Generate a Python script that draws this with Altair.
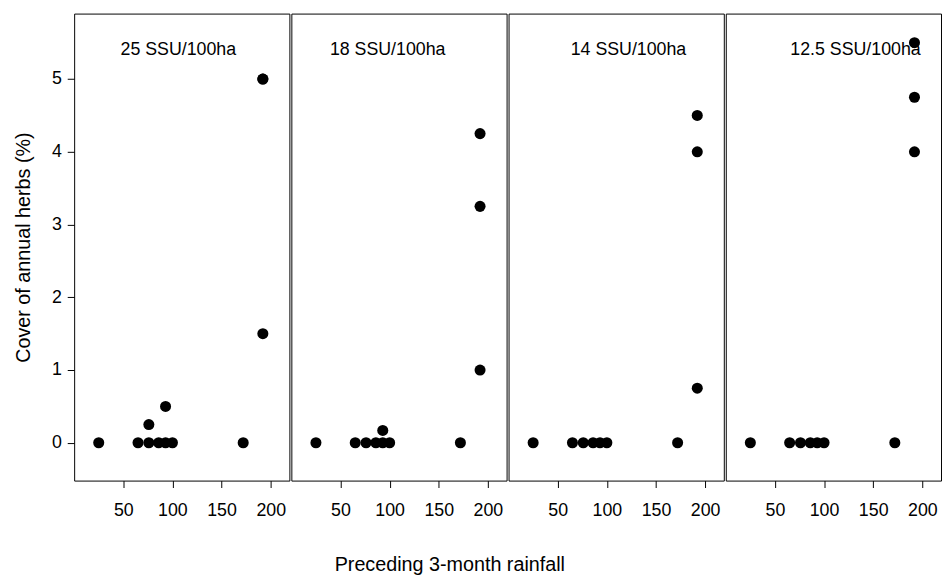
import altair as alt
import pandas as pd

FONT = "Liberation Sans"

panel_names = ["25 SSU/100ha", "18 SSU/100ha", "14 SSU/100ha", "12.5 SSU/100ha"]

rain_p1 = [25, 65, 76, 76, 86, 93, 93, 100, 172, 192, 192, 192]
cover_p1 = [0, 0, 0, 0.25, 0, 0, 0.5, 0, 0, 5.0, 5.0, 1.5]

rain_p2 = [25, 65, 76, 86, 93, 93, 100, 172, 192, 192, 192]
cover_p2 = [0, 0, 0, 0, 0, 0.17, 0, 0, 4.25, 3.25, 1.0]

rain_p3 = [25, 65, 76, 86, 93, 100, 172, 192, 192, 192]
cover_p3 = [0, 0, 0, 0, 0, 0, 0, 4.5, 4.0, 0.75]

rain_p4 = [25, 65, 76, 86, 93, 100, 172, 192, 192, 192]
cover_p4 = [0, 0, 0, 0, 0, 0, 0, 5.5, 4.75, 4.0]

label_x = [106, 98, 122, 132]
label_y = [5.4, 5.4, 5.4, 5.4]

x_ticks = [50, 100, 150, 200]
y_ticks = [0, 1, 2, 3, 4, 5]

rains = [rain_p1, rain_p2, rain_p3, rain_p4]
covers = [cover_p1, cover_p2, cover_p3, cover_p4]

W, H = 218, 473

x_scale = alt.Scale(domain=[0, 219], nice=False, zero=False)
y_scale = alt.Scale(domain=[-0.52, 5.9], nice=False, zero=False)

panels = []
for i, name in enumerate(panel_names):
    df = pd.DataFrame({"rain": rains[i], "cover": covers[i]})
    lab = pd.DataFrame({"x": [label_x[i]], "y": [label_y[i]], "t": [name]})
    if i == 0:
        yax = alt.Axis(values=y_ticks, title="Cover of annual herbs (%)", titleFontSize=20,
                       titleFont=FONT, titleFontWeight="normal", titleColor="black",
                       titlePadding=18, labelFontSize=18, labelFont=FONT, labelColor="black",
                       labelPadding=6, tickSize=7, tickColor="black", domain=False, grid=False)
    else:
        yax = None
    xax = alt.Axis(values=x_ticks, title=None, labelFontSize=18, labelFont=FONT,
                   labelColor="black", labelPadding=14, tickSize=7, tickColor="black",
                   domain=False, grid=False, labelFlush=False)
    text = alt.Chart(lab).mark_text(font=FONT, fontSize=18, color="black").encode(
        x=alt.X("x:Q", scale=x_scale, axis=xax),
        y=alt.Y("y:Q", scale=y_scale, axis=yax),
        text="t:N",
    )
    pts = alt.Chart(df).mark_circle(size=125, color="black", opacity=1).encode(
        x=alt.X("rain:Q", scale=x_scale, axis=xax),
        y=alt.Y("cover:Q", scale=y_scale, axis=yax),
    )
    panels.append(alt.layer(text, pts).properties(width=W, height=H))

chart = alt.hconcat(*panels, spacing=0).properties(
    title=alt.TitleParams("Preceding 3-month rainfall", orient="bottom", anchor="middle",
                          fontSize=20, font=FONT, fontWeight="normal", color="black",
                          offset=36, dx=-28),
    padding={"left": 5, "top": 1, "right": 0, "bottom": 0},
).configure(background="white").configure_view(stroke="black", strokeWidth=1)

chart.save("out.html", embed_options={"renderer": "svg", "actions": False})
